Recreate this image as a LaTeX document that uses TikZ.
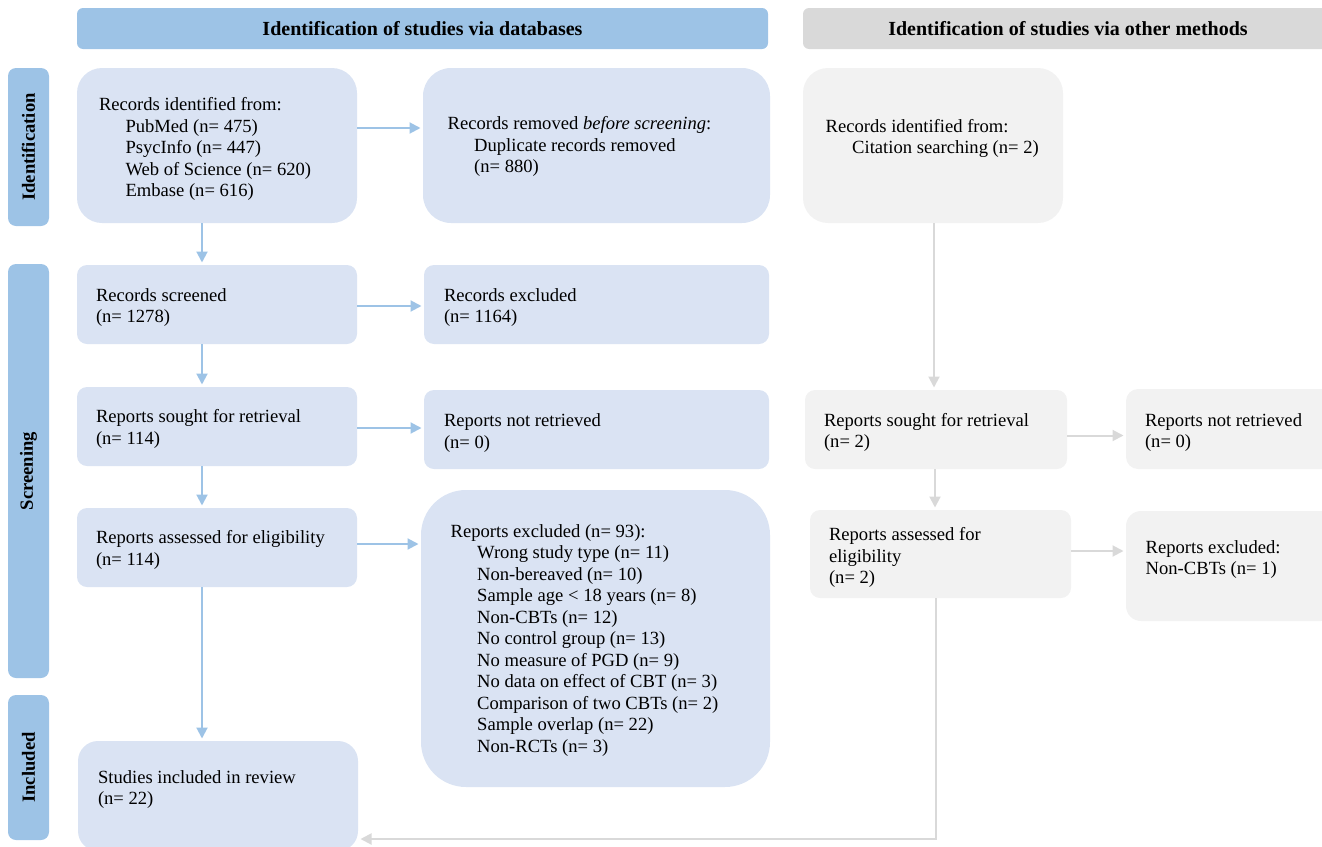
\documentclass[tikz,border=0pt]{standalone}
\usepackage{fontspec}
\setmainfont{Liberation Serif}
\usetikzlibrary{arrows.meta,calc}
\definecolor{hdrblue}{HTML}{9DC3E6}
\definecolor{boxblue}{HTML}{DAE3F3}
\definecolor{hdrgray}{HTML}{D9D9D9}
\definecolor{boxgray}{HTML}{F2F2F2}
\definecolor{arrowblue}{HTML}{9DC3E6}
\definecolor{arrowgray}{HTML}{D9D9D9}
\begin{document}
\begin{tikzpicture}[x=1pt,y=-1pt,
  every node/.style={outer sep=0pt},
  bx/.style={draw=none, inner sep=0pt, anchor=north west},
  bbox/.style={bx, fill=boxblue},
  gbox/.style={bx, fill=boxgray},
  txt/.style={inner sep=0pt, anchor=west, align=left, font=\fontsize{18.6}{21.5}\selectfont},
  hdr/.style={bx, font=\bfseries\fontsize{20}{22}\selectfont, rounded corners=6pt},
  side/.style={bx, fill=hdrblue, rounded corners=8pt},
  sidetxt/.style={inner sep=0pt, rotate=90, font=\bfseries\fontsize{18.6}{21.5}\selectfont},
  barr/.style={draw=arrowblue, line width=2pt, -{Triangle[length=11pt,width=11pt]}, shorten >=2.5pt},
  garr/.style={draw=arrowgray, line width=2pt, -{Triangle[length=11pt,width=11pt]}, shorten >=2.5pt}
]
\useasboundingbox (0,0) rectangle (1322,846);
\newcommand{\ind}{\hspace*{26.5pt}}

% headers
\node[hdr, fill=hdrblue, minimum width=691pt, minimum height=41pt] (h1) at (77,8) {Identification of studies via databases};
\node[hdr, fill=hdrgray, minimum width=530pt, minimum height=41pt] (h2) at (803,8) {Identification of studies via other methods};

% side labels
\node[side, minimum width=41pt, minimum height=158pt] (s1) at (8,68) {};
\node[sidetxt] (s1t) at (s1.center) {Identification};
\node[side, minimum width=41pt, minimum height=414pt] (s2) at (8,264) {};
\node[sidetxt] (s2t) at (s2.center) {Screening};
\node[side, minimum width=41pt, minimum height=145pt] (s3) at (8,695) {};
\node[sidetxt] (s3t) at (s3.center) {Included};

% database column boxes
\node[bbox, minimum width=280pt, minimum height=155pt, rounded corners=25pt] (iddb) at (77,68) {};
\node[txt] (iddbt) at ([xshift=22pt,yshift=-3.5pt]iddb.west) {Records identified from:\\\ind PubMed (n= 475)\\\ind PsycInfo (n= 447)\\\ind Web of Science (n= 620)\\\ind Embase (n= 616)};

\node[bbox, minimum width=347pt, minimum height=155pt, rounded corners=28pt] (removed) at (423,68) {};
\node[txt] (removedt) at ([xshift=24.7pt,yshift=-1pt]removed.west) {Records removed \textit{before screening}:\\\ind Duplicate records removed\\\ind (n= 880)};

\node[bbox, minimum width=280pt, minimum height=79pt, rounded corners=10pt] (screened) at (77,265) {};
\node[txt] (screenedt) at ([xshift=19pt,yshift=-3pt]screened.west) {Records screened\\(n= 1278)};

\node[bbox, minimum width=345pt, minimum height=79pt, rounded corners=10pt] (excluded) at (424,265) {};
\node[txt] (excludedt) at ([xshift=20pt,yshift=-3pt]excluded.west) {Records excluded\\(n= 1164)};

\node[bbox, minimum width=280pt, minimum height=79pt, rounded corners=10pt] (sought) at (77,387) {};
\node[txt] (soughtt) at ([xshift=19pt,yshift=-2.5pt]sought.west) {Reports sought for retrieval\\(n= 114)};

\node[bbox, minimum width=345pt, minimum height=79pt, rounded corners=10pt] (notretr) at (424,390) {};
\node[txt] (notretrt) at ([xshift=20pt,yshift=-3.5pt]notretr.west) {Reports not retrieved\\(n= 0)};

\node[bbox, minimum width=280pt, minimum height=79pt, rounded corners=10pt] (assessed) at (77,508) {};
\node[txt] (assessedt) at ([xshift=19pt,yshift=-2.5pt]assessed.west) {Reports assessed for eligibility\\(n= 114)};

\node[bbox, minimum width=349pt, minimum height=297pt, rounded corners=45pt] (exclrep) at (421,490) {};
\node[txt] (exclrept) at ([xshift=29.7pt,yshift=-2pt]exclrep.west) {Reports excluded (n= 93):\\\ind Wrong study type (n= 11)\\\ind Non-bereaved (n= 10)\\\ind Sample age < 18 years (n= 8)\\\ind Non-CBTs (n= 12)\\\ind No control group (n= 13)\\\ind No measure of PGD (n= 9)\\\ind No data on effect of CBT (n= 3)\\\ind Comparison of two CBTs (n= 2)\\\ind Sample overlap (n= 22)\\\ind Non-RCTs (n= 3)};

\node[bbox, minimum width=280pt, minimum height=110pt, rounded corners=20pt] (included) at (78,741) {};
\node[txt] (includedt) at ([xshift=20pt,yshift=6.5pt]included.west) {Studies included in review\\(n= 22)};

% other methods column boxes
\node[gbox, minimum width=260pt, minimum height=155pt, rounded corners=25pt] (idother) at (803,68) {};
\node[txt] (idothert) at ([xshift=22.7pt,yshift=7pt]idother.west) {Records identified from:\\\ind Citation searching (n= 2)};

\node[gbox, minimum width=262pt, minimum height=79pt, rounded corners=10pt] (sought2) at (805,390) {};
\node[txt] (sought2t) at ([xshift=19pt,yshift=-3pt]sought2.west) {Reports sought for retrieval\\(n= 2)};

\node[gbox, minimum width=210pt, minimum height=80pt, rounded corners=12pt] (notretr2) at (1126,389) {};
\node[txt] (notretr2t) at ([xshift=19pt,yshift=-3.5pt]notretr2.west) {Reports not retrieved\\(n= 0)};

\node[gbox, minimum width=261pt, minimum height=88pt, rounded corners=10pt] (assessed2) at (810,510) {};
\node[txt] (assessed2t) at ([xshift=19pt,yshift=-3.5pt]assessed2.west) {Reports assessed for\\eligibility\\(n= 2)};

\node[gbox, minimum width=210pt, minimum height=110pt, rounded corners=15pt] (excl2) at (1126,511) {};
\node[txt] (excl2t) at ([xshift=19.7pt,yshift=6.5pt]excl2.west) {Reports excluded:\\Non-CBTs (n= 1)};

% blue connectors
\draw[barr] ([yshift=17.5pt]iddb.east) -- ([yshift=17.5pt]iddb.east -| removed.west);
\draw[barr] ([yshift=-1.5pt]screened.east) -- ([yshift=-1.5pt]screened.east -| excluded.west);
\draw[barr] ([yshift=-1.5pt]sought.east) -- ([yshift=-1.5pt]sought.east -| notretr.west);
\draw[barr] ([yshift=3.5pt]assessed.east) -- ([yshift=3.5pt]assessed.east -| exclrep.west);
\draw[barr] ([xshift=-15pt]iddb.south) -- ([xshift=-15pt]iddb.south |- screened.north);
\draw[barr] ([xshift=-15pt]screened.south) -- ([xshift=-15pt]screened.south |- sought.north);
\draw[barr] ([xshift=-15pt]sought.south) -- ([xshift=-15pt]sought.south |- assessed.north);
\draw[barr] ([xshift=-15pt]assessed.south) -- ([xshift=-15pt]assessed.south |- included.north);

% gray connectors
\draw[garr] ([xshift=1pt]idother.south) -- ([xshift=1pt]idother.south |- sought2.north);
\draw[garr] ([yshift=-6pt]sought2.east) -- ([yshift=-6pt]sought2.east -| notretr2.west);
\draw[garr] ([xshift=-1pt]sought2.south) -- ([xshift=-1pt]sought2.south |- assessed2.north);
\draw[garr] ([yshift=3pt]assessed2.east) -- ([yshift=3pt]assessed2.east -| excl2.west);
\coordinate (corner) at (935.5,839);
\draw[garr] (assessed2.south -| corner) -- (corner) -- (corner -| included.east);
\end{tikzpicture}
\end{document}
